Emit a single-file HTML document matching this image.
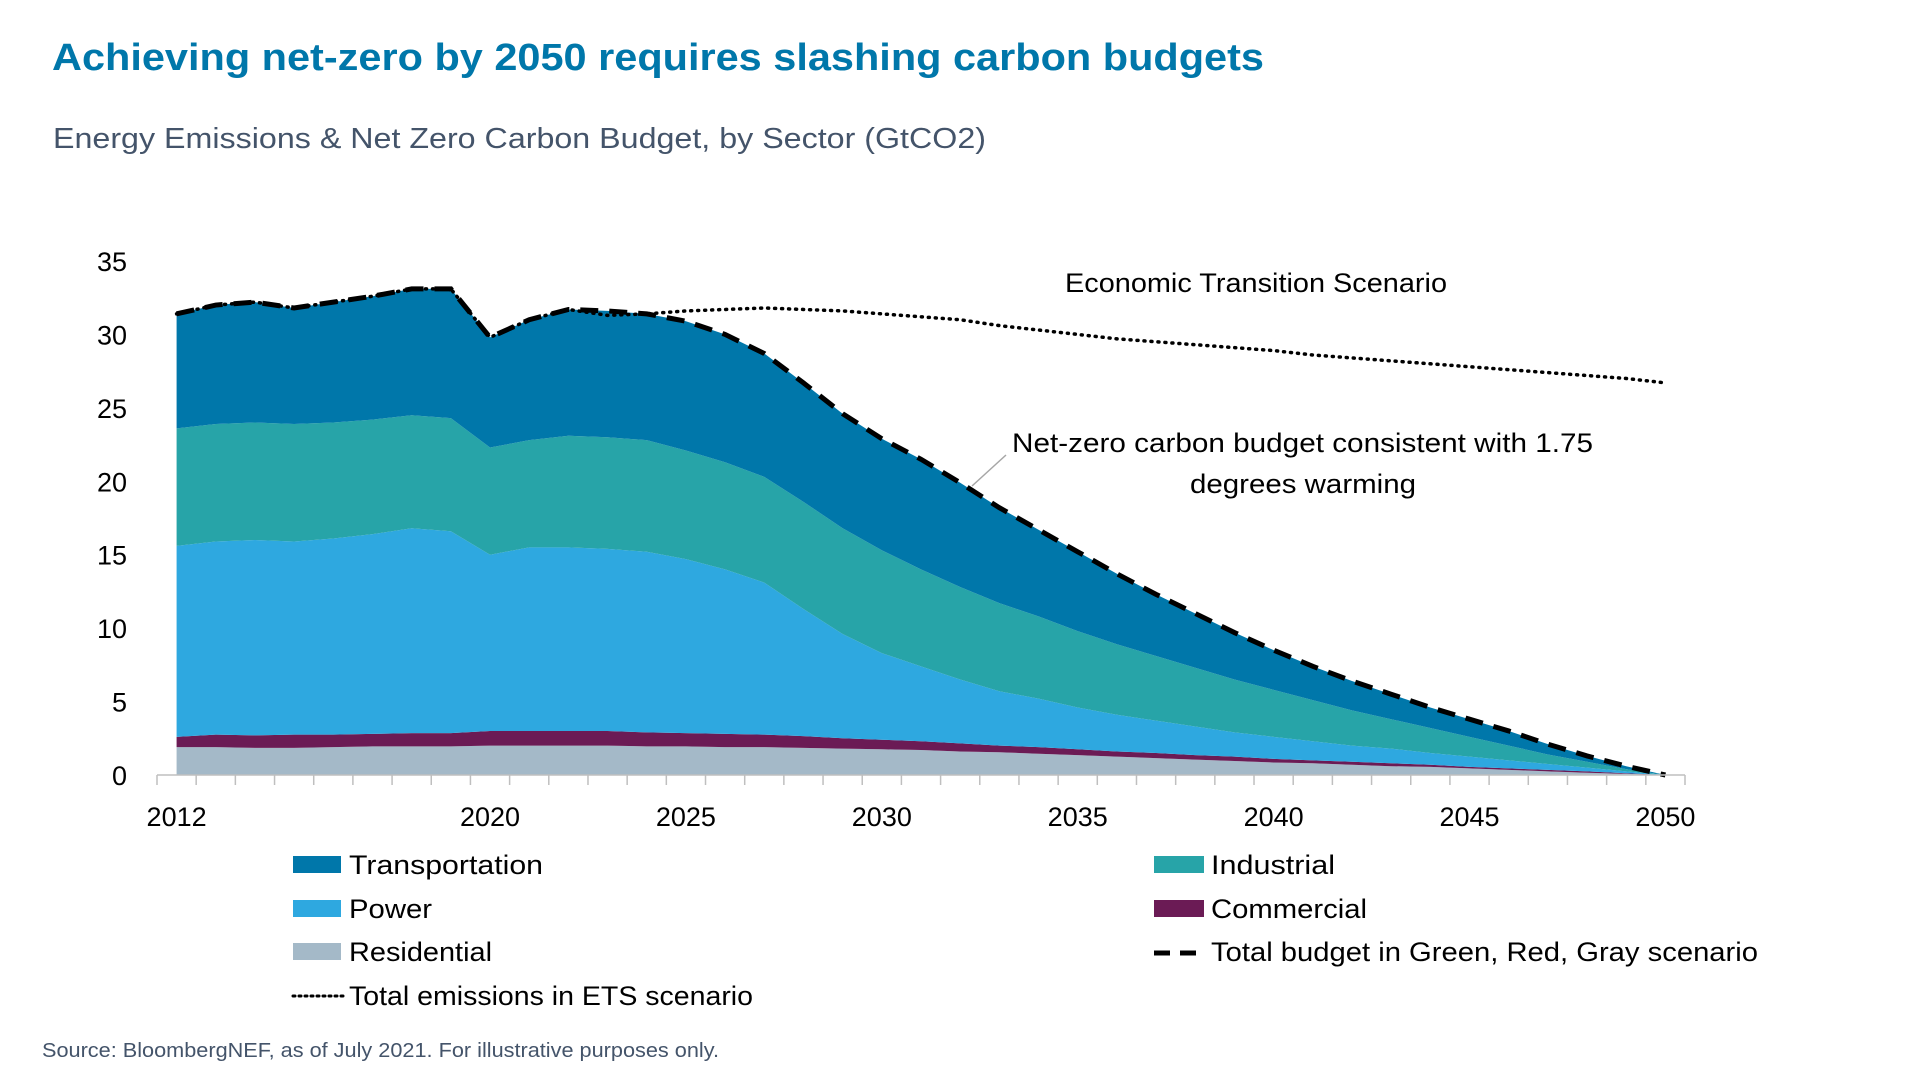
<!DOCTYPE html>
<html><head><meta charset="utf-8"><style>
html,body{margin:0;padding:0;background:#fff;}
svg{display:block;font-family:"Liberation Sans",sans-serif;}
</style></head><body>
<svg id="chart" width="1920" height="1080" viewBox="0 0 1920 1080" xmlns="http://www.w3.org/2000/svg">
<text x="52" y="70" font-size="38" font-weight="bold" fill="#0077AA" textLength="1212" lengthAdjust="spacingAndGlyphs">Achieving net-zero by 2050 requires slashing carbon budgets</text>
<text x="53" y="148" font-size="29" fill="#44546A" textLength="933" lengthAdjust="spacingAndGlyphs">Energy Emissions &amp; Net Zero Carbon Budget, by Sector (GtCO2)</text>
<g id="plot"></g>
<text x="1065" y="292" font-size="27" fill="#000" textLength="382" lengthAdjust="spacingAndGlyphs">Economic Transition Scenario</text>
<line x1="1006" y1="455" x2="972" y2="486" stroke="#A6A6A6" stroke-width="1.5"/>
<text x="1012" y="452" font-size="27" fill="#000" textLength="581" lengthAdjust="spacingAndGlyphs">Net-zero carbon budget consistent with 1.75</text>
<text x="1190" y="493" font-size="27" fill="#000" textLength="226" lengthAdjust="spacingAndGlyphs">degrees warming</text>
<g>
<g><rect x="293" y="856" width="48" height="17" fill="#0077AA"/><text x="349" y="874" font-size="27" textLength="194" lengthAdjust="spacingAndGlyphs">Transportation</text></g>
<g><rect x="1154" y="856" width="50" height="17" fill="#27A4A8"/><text x="1211" y="874" font-size="27" textLength="124" lengthAdjust="spacingAndGlyphs">Industrial</text></g>
<g><rect x="293" y="900" width="48" height="17" fill="#2EA8E0"/><text x="349" y="918" font-size="27" textLength="83" lengthAdjust="spacingAndGlyphs">Power</text></g>
<g><rect x="1154" y="900" width="50" height="17" fill="#6B1B55"/><text x="1211" y="918" font-size="27" textLength="156" lengthAdjust="spacingAndGlyphs">Commercial</text></g>
<g><rect x="293" y="943" width="48" height="17" fill="#A4B9C8"/><text x="349" y="961" font-size="27" textLength="143" lengthAdjust="spacingAndGlyphs">Residential</text></g>
<g><line x1="1154" y1="953" x2="1206" y2="953" stroke="#000" stroke-width="5" stroke-dasharray="16,10"/><text x="1211" y="961" font-size="27" textLength="547" lengthAdjust="spacingAndGlyphs">Total budget in Green, Red, Gray scenario</text></g>
<g><line x1="293" y1="996" x2="345" y2="996" stroke="#000" stroke-width="3" stroke-dasharray="2,4" stroke-linecap="round"/><text x="349" y="1005" font-size="27" textLength="404" lengthAdjust="spacingAndGlyphs">Total emissions in ETS scenario</text></g>
</g>
<text x="42" y="1057" font-size="20" fill="#44546A" textLength="677" lengthAdjust="spacingAndGlyphs">Source: BloombergNEF, as of July 2021. For illustrative purposes only.</text>
</svg>
<script>
const years = [];
for (let y = 2012; y <= 2050; y++) years.push(y);
const residential = [1.9,1.9,1.85,1.85,1.9,1.95,1.95,1.95,2.0,2.0,2.0,2.0,1.95,1.95,1.9,1.9,1.85,1.8,1.75,1.7,1.6,1.55,1.45,1.35,1.25,1.15,1.05,0.95,0.85,0.8,0.7,0.6,0.55,0.45,0.35,0.25,0.15,0.08,0];
const commercial = [0.7,0.85,0.85,0.9,0.85,0.85,0.9,0.9,1.0,1.0,1.0,1.0,0.95,0.9,0.9,0.85,0.8,0.7,0.65,0.6,0.55,0.45,0.45,0.4,0.35,0.35,0.3,0.3,0.25,0.2,0.2,0.2,0.15,0.1,0.1,0.1,0.1,0.04,0];
const power = [13.0,13.15,13.3,13.15,13.35,13.6,13.95,13.75,12.0,12.5,12.5,12.4,12.3,11.85,11.2,10.35,8.65,7.1,5.9,5.1,4.35,3.7,3.3,2.85,2.5,2.2,1.95,1.65,1.5,1.3,1.1,1.0,0.8,0.7,0.55,0.4,0.25,0.13,0];
const industrial = [8.0,8.0,8.0,8.0,7.9,7.8,7.7,7.7,7.3,7.3,7.6,7.6,7.6,7.4,7.3,7.2,7.3,7.2,7.0,6.6,6.3,6.0,5.6,5.2,4.8,4.4,4.0,3.6,3.2,2.8,2.4,2.0,1.7,1.35,1.0,0.65,0.4,0.15,0];
const transportation = [7.8,8.1,8.2,7.9,8.2,8.4,8.6,8.8,7.5,8.2,8.6,8.6,8.6,8.8,8.7,8.4,8.1,7.8,7.6,7.5,7.1,6.5,5.9,5.4,4.8,4.2,3.7,3.2,2.7,2.3,2.0,1.7,1.4,1.2,1.0,0.7,0.4,0.2,0];
const budget = [31.4,32.0,32.2,31.8,32.2,32.6,33.1,33.1,29.8,31.0,31.7,31.6,31.4,30.9,30.0,28.7,26.7,24.6,22.9,21.5,19.9,18.2,16.7,15.2,13.7,12.3,11.0,9.7,8.5,7.4,6.4,5.5,4.6,3.8,3.0,2.1,1.3,0.6,0];
const ets = [31.4,32.0,32.2,31.8,32.2,32.6,33.1,33.1,29.8,31.0,31.7,31.3,31.4,31.6,31.7,31.8,31.7,31.6,31.4,31.2,31.0,30.6,30.3,30.0,29.7,29.5,29.3,29.1,28.9,28.6,28.4,28.2,28.0,27.8,27.6,27.4,27.2,27.0,26.7];
const yTicks = [0,5,10,15,20,25,30,35];
const xLabels = ["2012","2020","2025","2030","2035","2040","2045","2050"];

const NS = "http://www.w3.org/2000/svg";
const plot = document.getElementById("plot");
const X0 = 157, X1 = 1685, Y0 = 775, YMAX = 35, YTOP = 261;
const band = (X1 - X0) / years.length;
function xs(i){ return X0 + (i + 0.5) * band; }
function ys(v){ return Y0 - v / YMAX * (Y0 - YTOP); }
function mk(tag, attrs){ const e = document.createElementNS(NS, tag); for (const k in attrs) e.setAttribute(k, attrs[k]); return e; }

const series = [
  {name:"residential", vals:residential, color:"#A4B9C8"},
  {name:"commercial", vals:commercial, color:"#6B1B55"},
  {name:"power", vals:power, color:"#2EA8E0"},
  {name:"industrial", vals:industrial, color:"#27A4A8"},
  {name:"transportation", vals:transportation, color:"#0077AA"}
];
let base = years.map(() => 0);
series.forEach(s => {
  const top = base.map((b, i) => b + s.vals[i]);
  let d = "M" + xs(0) + "," + ys(top[0]);
  for (let i = 1; i < years.length; i++) d += " L" + xs(i) + "," + ys(top[i]);
  for (let i = years.length - 1; i >= 0; i--) d += " L" + xs(i) + "," + ys(base[i]);
  d += " Z";
  const p = mk("path", {d: d, fill: s.color});
  
  
  plot.appendChild(p);
  base = top;
});

function linePath(vals){ return vals.map((v, i) => (i ? "L" : "M") + xs(i) + "," + ys(v)).join(" "); }
const etsLine = mk("path", {d: linePath(ets), fill:"none", stroke:"#000", "stroke-width":"3.5", "stroke-dasharray":"1,6", "stroke-linecap":"round"});


const budLine = mk("path", {d: linePath(budget), fill:"none", stroke:"#000", "stroke-width":"5", "stroke-dasharray":"18,11"});


plot.appendChild(budLine);
plot.appendChild(etsLine);

const axis = mk("line", {x1:X0, y1:Y0, x2:X1, y2:Y0, stroke:"#BFBFBF", "stroke-width":"1.5"});


plot.appendChild(axis);
for (let i = 0; i <= years.length; i++) {
  const tx = X0 + i * band;
  const t = mk("line", {x1:tx, y1:Y0, x2:tx, y2:Y0 + 10, stroke:"#BFBFBF", "stroke-width":"1.5"});
  
  
  plot.appendChild(t);
}
xLabels.forEach(l => {
  const i = years.indexOf(+l);
  const t = mk("text", {x: xs(i), y: 826, "font-size":"27", "text-anchor":"middle", fill:"#000"});
  t.textContent = l;
  
  
  plot.appendChild(t);
});
yTicks.forEach(v => {
  const t = mk("text", {x: 127, y: ys(v) + 10, "font-size":"27", "text-anchor":"end", fill:"#000"});
  t.textContent = v;
  
  
  plot.appendChild(t);
});
</script>
</body></html>
